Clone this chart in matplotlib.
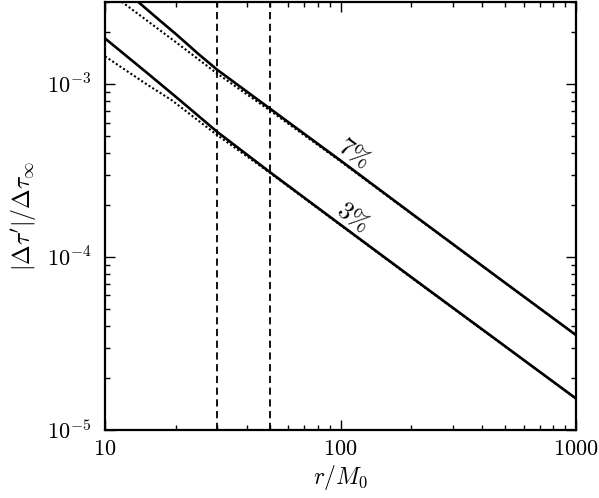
import matplotlib
matplotlib.use("Agg")
import matplotlib.pyplot as plt
import numpy as np

plt.rcParams['mathtext.fontset'] = 'cm'
plt.rcParams['font.family'] = 'serif'
plt.rcParams['font.serif'] = ['DejaVu Serif']

# exact curves (solid) and approximations (dotted)
r_solid7 = [13.8, 17, 20, 25, 30, 50, 100, 200, 500, 1000]
y_solid7 = [3.0e-3, 2.35e-3, 1.95e-3, 1.49e-3, 1.21e-3, 7.25e-4, 3.62e-4, 1.79e-4, 7.1e-5, 3.54e-5]
r_dot7 = [11.77, 20, 30, 50, 100, 200, 500, 1000]
y_dot7 = [3.0e-3, 1.75e-3, 1.15e-3, 7.07e-4, 3.58e-4, 1.78e-4, 7.1e-5, 3.54e-5]

r_solid3 = [10, 15, 20.8, 30, 50, 100, 200, 500, 1000]
y_solid3 = [1.84e-3, 1.17e-3, 8.08e-4, 5.29e-4, 3.11e-4, 1.54e-4, 7.65e-5, 3.05e-5, 1.52e-5]
r_dot3 = [10, 15, 19.2, 30, 50, 100, 200, 500, 1000]
y_dot3 = [1.45e-3, 1.0e-3, 8.08e-4, 5.07e-4, 3.08e-4, 1.53e-4, 7.6e-5, 3.04e-5, 1.52e-5]

r_vlines = [30, 50]
curve_labels = [r'$7\%$', r'$3\%$']
label_pos_r = [114.6, 112.5]
label_pos_y = [3.99e-4, 1.70e-4]

xticks = [10, 100, 1000]
xticklabels = [r'$10$', r'$100$', r'$1000$']
yticks = [1e-5, 1e-4, 1e-3]
yticklabels = [r'$10^{-5}$', r'$10^{-4}$', r'$10^{-3}$']

fig = plt.figure(figsize=(5.99, 4.98), dpi=100)
ax = fig.add_axes([105/599, 1 - 430/498, (576 - 105)/599, (430 - 1.7)/498])

ax.set_xscale('log')
ax.set_yscale('log')
ax.set_xlim(10, 1000)
ax.set_ylim(1e-5, 3e-3)

ax.plot(r_solid7, y_solid7, color='black', lw=1.9, solid_capstyle='butt')
ax.plot(r_dot7, y_dot7, color='black', lw=1.5, linestyle=(0, (1, 1.1)))
ax.plot(r_solid3, y_solid3, color='black', lw=1.9, solid_capstyle='butt')
ax.plot(r_dot3, y_dot3, color='black', lw=1.5, linestyle=(0, (1, 1.1)))

for rv in r_vlines:
    ax.axvline(rv, color='black', lw=1.3, linestyle=(0, (4, 2.5)))

for lab, xr, yr in zip(curve_labels, label_pos_r, label_pos_y):
    ax.text(xr, yr, lab, rotation=-36, fontsize=18, ha='center', va='center')

ax.set_xticks(xticks)
ax.set_xticklabels(xticklabels)
ax.set_yticks(yticks)
ax.set_yticklabels(yticklabels)

ax.tick_params(which='both', direction='in', top=True, right=True, labelsize=16, width=1.0)
ax.tick_params(which='major', length=7)
ax.tick_params(which='minor', length=3.5)
ax.tick_params(axis='x', pad=6)
ax.tick_params(axis='y', pad=10)

for s in ax.spines.values():
    s.set_linewidth(1.6)

ax.set_xlabel(r'$r/M_0$', fontsize=17, labelpad=2)
ax.set_ylabel(r'$|\Delta\tau^\prime|/\Delta\tau_\infty$', fontsize=17, labelpad=6)

fig.savefig('out.png', dpi=100)
